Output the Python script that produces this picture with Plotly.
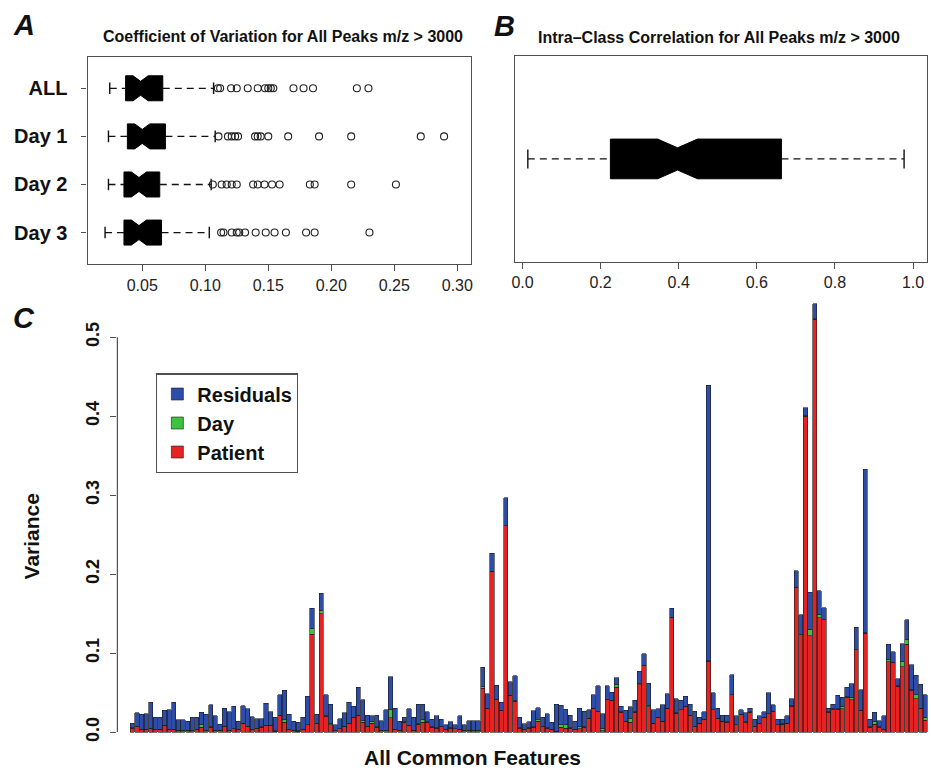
import plotly.graph_objects as go

# ---------------- Panel A data: coefficient of variation ----------------
cv_groups = ["ALL", "Day 1", "Day 2", "Day 3"]
cv_lowerfence = [0.0242, 0.0232, 0.0232, 0.0205]
cv_q1 = [0.0368, 0.0382, 0.0355, 0.0355]
cv_median = [0.0487, 0.0500, 0.0474, 0.0474]
cv_q3 = [0.0663, 0.0684, 0.0639, 0.0653]
cv_upperfence = [0.1066, 0.1079, 0.1047, 0.1032]
cv_notchspan = [0.0060, 0.0060, 0.0060, 0.0060]
cv_outliers = [
    [0.110, 0.1118, 0.1205, 0.125, 0.1337, 0.1416, 0.1474, 0.150, 0.152, 0.154,
     0.170, 0.178, 0.1855, 0.2203, 0.2295],
    [0.1105, 0.118, 0.121, 0.1237, 0.126, 0.1395, 0.1416, 0.144, 0.150, 0.1658,
     0.1903, 0.2158, 0.271, 0.2895],
    [0.106, 0.113, 0.117, 0.121, 0.125, 0.138, 0.1416, 0.147, 0.153, 0.159,
     0.183, 0.1868, 0.2158, 0.2513],
    [0.1126, 0.1145, 0.121, 0.125, 0.127, 0.1316, 0.140, 0.148, 0.155, 0.164,
     0.180, 0.1868, 0.2303],
]

# ---------------- Panel B data: intra-class correlation ----------------
icc_lowerfence = [0.0136]
icc_q1 = [0.225]
icc_median = [0.397]
icc_q3 = [0.663]
icc_upperfence = [0.977]
icc_notchspan = [0.051]

# ---------------- Panel C data: variance components per feature ----------------
patient = [
    0.005, 0.007, 0.003, 0.003, 0.004, 0.003, 0.003, 0.008, 0.003, 0.003,
    0.002, 0.002, 0.002, 0.002, 0.003, 0.006, 0.002, 0.006, 0.002, 0.002,
    0.007, 0.002, 0.004, 0.003, 0.011, 0.007, 0.003, 0.004, 0.006, 0.008,
    0.008, 0.001, 0.021, 0.0126, 0.003, 0.002, 0.001, 0.003, 0.009, 0.124,
    0.0105, 0.150, 0.020, 0.009, 0.002, 0.004, 0.007, 0.0105, 0.018, 0.021,
    0.0126, 0.007, 0.011, 0.006, 0.002, 0.002, 0.018, 0.003, 0.002, 0.0126,
    0.008, 0.002, 0.010, 0.0126, 0.0126, 0.006, 0.005, 0.007, 0.003, 0.005,
    0.004, 0.003, 0.002, 0.002, 0.002, 0.002, 0.0556, 0.0295, 0.203, 0.041,
    0.027, 0.261, 0.046, 0.039, 0.005, 0.003, 0.005, 0.006, 0.0135, 0.007,
    0.005, 0.003, 0.0005, 0.006, 0.005, 0.005, 0.003, 0.004, 0.006, 0.017,
    0.030, 0.026, 0.002, 0.041, 0.0396, 0.057, 0.025, 0.0135, 0.0126, 0.025,
    0.060, 0.084, 0.032, 0.011, 0.018, 0.0135, 0.030, 0.145, 0.024, 0.028,
    0.032, 0.021, 0.007, 0.011, 0.0156, 0.090, 0.028, 0.017, 0.0135, 0.0126,
    0.047, 0.009, 0.022, 0.0126, 0.025, 0.007, 0.011, 0.018, 0.023, 0.026,
    0.009, 0.010, 0.011, 0.033, 0.1827, 0.123, 0.400, 0.122, 0.5227, 0.145,
    0.142, 0.025, 0.029, 0.029, 0.0295, 0.044, 0.041, 0.104, 0.027, 0.125,
    0.006, 0.010, 0.006, 0.003, 0.089, 0.088, 0.058, 0.083, 0.111, 0.053,
    0.042, 0.030, 0.0147,
]
day = [
    0.0005, 0.0005, 0.0005, 0.0005, 0.001, 0.0005, 0.0005, 0.0005, 0.0005, 0.0005,
    0.0005, 0.0005, 0.0005, 0.0005, 0.0005, 0.004, 0.0005, 0.0005, 0.0005, 0.0005,
    0.0005, 0.0005, 0.0005, 0.0005, 0.0005, 0.0005, 0.0005, 0.001, 0.0005, 0.0005,
    0.0005, 0.0005, 0.0005, 0.003, 0.0005, 0.0005, 0.0005, 0.0005, 0.0005, 0.007,
    0.0005, 0.004, 0.0005, 0.002, 0.0005, 0.0005, 0.0005, 0.0005, 0.0005, 0.0005,
    0.002, 0.0005, 0.002, 0.0005, 0.0005, 0.0005, 0.011, 0.0005, 0.0005, 0.0005,
    0.0005, 0.0005, 0.0005, 0.003, 0.0005, 0.0005, 0.0005, 0.0005, 0.0005, 0.0005,
    0.0005, 0.0005, 0.0005, 0.0005, 0.0005, 0.0005, 0.002, 0.0005, 0.0005, 0.0005,
    0.0005, 0.0005, 0.0005, 0.0005, 0.0005, 0.0005, 0.0005, 0.001, 0.002, 0.0005,
    0.0005, 0.0005, 0.0005, 0.003, 0.004, 0.0005, 0.0005, 0.003, 0.0005, 0.0005,
    0.0005, 0.0005, 0.0025, 0.0005, 0.0005, 0.003, 0.0005, 0.0005, 0.005, 0.0005,
    0.002, 0.0005, 0.002, 0.0005, 0.0005, 0.0005, 0.0005, 0.0005, 0.0005, 0.0005,
    0.0005, 0.0005, 0.0005, 0.0005, 0.0005, 0.0005, 0.0005, 0.0005, 0.0005, 0.0005,
    0.0005, 0.0005, 0.0005, 0.0005, 0.0005, 0.0005, 0.0005, 0.0005, 0.0005, 0.0005,
    0.0005, 0.0005, 0.0005, 0.0005, 0.0005, 0.0005, 0.0005, 0.008, 0.0005, 0.004,
    0.0005, 0.0005, 0.0005, 0.0005, 0.003, 0.0005, 0.003, 0.0005, 0.0005, 0.0005,
    0.0005, 0.003, 0.0005, 0.0005, 0.003, 0.0005, 0.0005, 0.006, 0.006, 0.0005,
    0.005, 0.0005, 0.004,
]
residuals = [
    0.006, 0.017, 0.019, 0.020, 0.033, 0.0155, 0.015, 0.019, 0.025, 0.034,
    0.013, 0.013, 0.0115, 0.0165, 0.0155, 0.015, 0.020, 0.028, 0.018, 0.0077,
    0.023, 0.023, 0.028, 0.0105, 0.022, 0.022, 0.016, 0.012, 0.0105, 0.028,
    0.017, 0.017, 0.026, 0.0374, 0.019, 0.0115, 0.011, 0.0155, 0.0356, 0.026,
    0.0115, 0.022, 0.027, 0.024, 0.007, 0.0125, 0.017, 0.0265, 0.014, 0.035,
    0.0264, 0.014, 0.008, 0.015, 0.012, 0.026, 0.041, 0.027, 0.0115, 0.0054,
    0.021, 0.016, 0.0245, 0.0194, 0.0124, 0.0096, 0.015, 0.0086, 0.006, 0.0076,
    0.005, 0.017, 0.007, 0.012, 0.012, 0.012, 0.0244, 0.0185, 0.0226, 0.018,
    0.010, 0.035, 0.017, 0.032, 0.0135, 0.007, 0.0076, 0.020, 0.0155, 0.011,
    0.018, 0.009, 0.0345, 0.025, 0.020, 0.016, 0.0105, 0.023, 0.020, 0.011,
    0.017, 0.032, 0.0185, 0.017, 0.0104, 0.009, 0.007, 0.0135, 0.0144, 0.015,
    0.015, 0.015, 0.028, 0.017, 0.011, 0.0205, 0.018, 0.011, 0.018, 0.012,
    0.013, 0.0135, 0.019, 0.0075, 0.0094, 0.3486, 0.021, 0.013, 0.0075, 0.0084,
    0.025, 0.011, 0.006, 0.0114, 0.005, 0.0086, 0.009, 0.007, 0.026, 0.008,
    0.0066, 0.0056, 0.009, 0.009, 0.021, 0.025, 0.010, 0.047, 0.019, 0.030,
    0.015, 0.005, 0.006, 0.017, 0.0115, 0.012, 0.017, 0.028, 0.026, 0.207,
    0.0096, 0.012, 0.008, 0.017, 0.019, 0.013, 0.009, 0.023, 0.025, 0.032,
    0.025, 0.030, 0.0283,
]
features = list(range(len(patient)))
c_yticks = [0.0, 0.1, 0.2, 0.3, 0.4, 0.5]
c_yticktext = ["0.0", "0.1", "0.2", "0.3", "0.4", "0.5"]

# ---------------- styling ----------------
W, H = 931, 770
FONT = "Liberation Sans, Arial, Helvetica, sans-serif"
INK = "#111111"
FRAME = "#505050"
BLUE = "#2D4DA8"
GREEN = "#3CC23C"
RED = "#E62222"
NOTCH = 0.22

def px_x(p):
    return p / W

def px_y(p):
    return 1 - p / H

fig = go.Figure()

# ---- Panel A: notched boxes ----
a_pos = [3, 2, 1, 0]
a_box_w = 0.52
a_cap = 0.12
for i, g in enumerate(cv_groups):
    pos = a_pos[i]
    fig.add_trace(go.Box(
        orientation="h", y=[pos], q1=[cv_q1[i]], median=[cv_median[i]], q3=[cv_q3[i]],
        lowerfence=[cv_q1[i]], upperfence=[cv_q3[i]], notchspan=[cv_notchspan[i]],
        notched=True, notchwidth=NOTCH, width=a_box_w, whiskerwidth=0,
        fillcolor="black", line=dict(color="black", width=1), boxpoints=False,
        showlegend=False, xaxis="x", yaxis="y", name=g, hoverinfo="skip"))
    # dashed whiskers
    fig.add_trace(go.Scatter(
        x=[cv_lowerfence[i], cv_q1[i], None, cv_q3[i], cv_upperfence[i]],
        y=[pos, pos, None, pos, pos], mode="lines",
        line=dict(color="#111", width=1.3, dash="7px,5px"),
        showlegend=False, xaxis="x", yaxis="y", hoverinfo="skip"))
    # staples
    fig.add_trace(go.Scatter(
        x=[cv_lowerfence[i], cv_lowerfence[i], None, cv_upperfence[i], cv_upperfence[i]],
        y=[pos - a_cap, pos + a_cap, None, pos - a_cap, pos + a_cap], mode="lines",
        line=dict(color="#111", width=1.4),
        showlegend=False, xaxis="x", yaxis="y", hoverinfo="skip"))
    # outliers
    fig.add_trace(go.Scatter(
        x=cv_outliers[i], y=[pos] * len(cv_outliers[i]), mode="markers",
        marker=dict(symbol="circle-open", size=7, color="#222", line=dict(width=1.1)),
        showlegend=False, xaxis="x", yaxis="y", hoverinfo="skip"))

# ---- Panel B: notched box ----
b_box_w = 0.208
b_cap = 0.05
fig.add_trace(go.Box(
    orientation="h", y=[0], q1=icc_q1, median=icc_median, q3=icc_q3,
    lowerfence=icc_q1, upperfence=icc_q3, notchspan=icc_notchspan,
    notched=True, notchwidth=NOTCH, width=b_box_w, whiskerwidth=0,
    fillcolor="black", line=dict(color="black", width=1), boxpoints=False,
    showlegend=False, xaxis="x2", yaxis="y2", hoverinfo="skip"))
fig.add_trace(go.Scatter(
    x=[icc_lowerfence[0], icc_q1[0], None, icc_q3[0], icc_upperfence[0]],
    y=[0, 0, None, 0, 0], mode="lines",
    line=dict(color="#111", width=1.3, dash="7px,5px"),
    showlegend=False, xaxis="x2", yaxis="y2", hoverinfo="skip"))
fig.add_trace(go.Scatter(
    x=[icc_lowerfence[0], icc_lowerfence[0], None, icc_upperfence[0], icc_upperfence[0]],
    y=[-b_cap, b_cap, None, -b_cap, b_cap], mode="lines",
    line=dict(color="#111", width=1.4),
    showlegend=False, xaxis="x2", yaxis="y2", hoverinfo="skip"))

# ---- Panel C: stacked bars ----
bar_line = dict(color="#1a1a1a", width=0.6)
fig.add_trace(go.Bar(x=features, y=patient, name="Patient", marker=dict(color=RED, line=bar_line),
                     xaxis="x3", yaxis="y3"))
fig.add_trace(go.Bar(x=features, y=day, name="Day", marker=dict(color=GREEN, line=bar_line),
                     xaxis="x3", yaxis="y3"))
fig.add_trace(go.Bar(x=features, y=residuals, name="Residuals", marker=dict(color=BLUE, line=bar_line),
                     xaxis="x3", yaxis="y3"))

tickfont = dict(family=FONT, size=16, color="#222")
axis_frame = dict(showline=True, linecolor=FRAME, linewidth=1.2, mirror=True,
                  showgrid=False, zeroline=False)

fig.update_layout(
    width=W, height=H, margin=dict(l=0, r=0, t=0, b=0),
    paper_bgcolor="white", plot_bgcolor="white",
    barmode="stack", bargap=0.08,
    font=dict(family=FONT, color=INK),
    xaxis=dict(domain=[px_x(85), px_x(470.7)], range=[0.0066, 0.311], anchor="y",
               tickvals=[0.05, 0.10, 0.15, 0.20, 0.25, 0.30],
               ticktext=["0.05", "0.10", "0.15", "0.20", "0.25", "0.30"],
               ticks="outside", ticklen=6, tickcolor=FRAME, tickfont=tickfont, **axis_frame),
    yaxis=dict(domain=[px_y(265), px_y(56.7)], range=[-0.66, 3.66], anchor="x",
               tickvals=a_pos, ticktext=cv_groups, ticks="outside", ticklen=5, tickcolor=FRAME,
               ticklabelstandoff=10,
               tickfont=dict(family=FONT, size=20, color=INK, weight="bold"), **axis_frame),
    xaxis2=dict(domain=[px_x(514.3), px_x(929)], range=[-0.0204, 1.0357], anchor="y2",
                tickvals=[0.0, 0.2, 0.4, 0.6, 0.8, 1.0],
                ticktext=["0.0", "0.2", "0.4", "0.6", "0.8", "1.0"],
                ticks="outside", ticklen=6, tickcolor=FRAME, tickfont=tickfont, **axis_frame),
    yaxis2=dict(domain=[px_y(262.7), px_y(56)], range=[-0.54, 0.54], anchor="x2",
                showticklabels=False, ticks="", **axis_frame),
    xaxis3=dict(domain=[px_x(115), 1.0], range=[-3.236, 172.8], anchor="y3",
                showline=False, showticklabels=False, ticks="", showgrid=False, zeroline=False),
    yaxis3=dict(domain=[px_y(742), px_y(300)], range=[-0.0101, 0.548], anchor="x3",
                tickvals=c_yticks, ticktext=c_yticktext, tickangle=-90,
                ticks="outside", ticklen=6, tickcolor=FRAME, ticklabelstandoff=4,
                tickfont=dict(family=FONT, size=18, color=INK, weight="bold"),
                showline=False, showgrid=False, zeroline=False),
    legend=dict(x=px_x(154), y=px_y(374.3), xanchor="left", yanchor="top",
                traceorder="reversed", bgcolor="white", bordercolor=FRAME, borderwidth=1.2,
                font=dict(family=FONT, size=20, color=INK, weight="bold"),
                itemwidth=30),
    showlegend=True,
)

# y-axis line of panel C spanning the tick range
fig.add_shape(type="line", xref="x3 domain", yref="y3", x0=0, x1=0,
              y0=c_yticks[0], y1=c_yticks[-1], line=dict(color=FRAME, width=1.2))

def ann(text, x, y, size, italic=False, angle=0):
    fig.add_annotation(text=text, x=px_x(x), y=px_y(y), xref="paper", yref="paper",
                       showarrow=False, textangle=angle, xanchor="center", yanchor="middle",
                       font=dict(family=FONT, size=size, color=INK, weight="bold",
                                 style="italic" if italic else "normal"))

ann("A", 21, 25, 29, italic=True)
ann("B", 504, 26, 29, italic=True)
ann("C", 21, 319, 29, italic=True)
ann("Coefficient of Variation for All Peaks m/z > 3000", 282, 37, 16)
ann("Intra\u2013Class Correlation for All Peaks m/z > 3000", 719.5, 37.3, 16)
ann("Variance", 29, 538, 21, angle=-90)
ann("All Common Features", 472, 759, 21)

fig.write_html(
    "out.html",
    config={"displayModeBar": False},
    post_script=(
        "document.body.style.margin='0';"
        "document.body.style.padding='0';"
        "document.documentElement.style.overflow='hidden';"
        "document.body.style.overflow='hidden';"
    ),
)
